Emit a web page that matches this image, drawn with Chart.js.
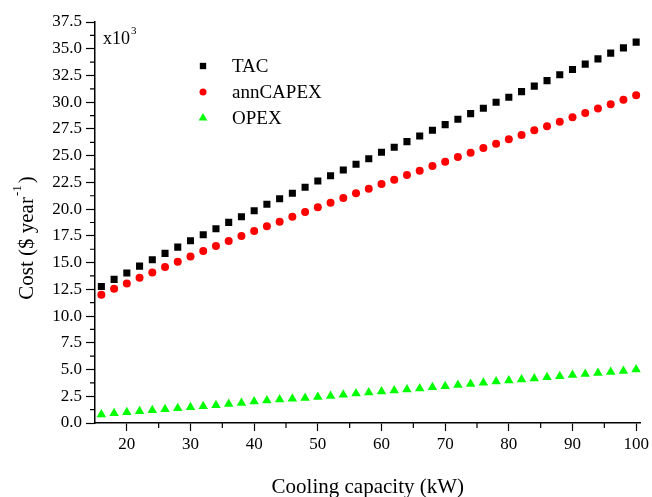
<!DOCTYPE html>
<html>
<head>
<meta charset="utf-8">
<script src="https://cdn.jsdelivr.net/npm/chart.js@4.4.1/dist/chart.umd.min.js"></script>
<style>
  html, body { margin: 0; padding: 0; background: #fff; }
</style>
</head>
<body>
<canvas id="c" width="652" height="497"></canvas>
<script>
// cooling capacity (kW), one point every 2 kW
const capacity = [16, 18, 20, 22, 24, 26, 28, 30, 32, 34, 36, 38, 40, 42, 44, 46, 48, 50, 52, 54,
  56, 58, 60, 62, 64, 66, 68, 70, 72, 74, 76, 78, 80, 82, 84, 86, 88, 90, 92, 94, 96, 98, 100];

// costs in thousands of $ per year
const tac = [12.77, 13.43, 14.02, 14.67, 15.26, 15.86, 16.45, 17.04, 17.60, 18.16,
  18.76, 19.29, 19.85, 20.45, 20.97, 21.48, 22.04, 22.63, 23.13, 23.66,
  24.19, 24.72, 25.32, 25.79, 26.31, 26.84, 27.38, 27.90, 28.41, 28.93,
  29.44, 30.00, 30.47, 30.99, 31.50, 32.02, 32.56, 33.05, 33.56, 34.05,
  34.59, 35.08, 35.62];
const annCapex = [11.99, 12.55, 13.05, 13.58, 14.08, 14.58, 15.07, 15.58, 16.08, 16.55,
  17.01, 17.48, 17.95, 18.39, 18.82, 19.29, 19.73, 20.17, 20.60, 21.04,
  21.48, 21.91, 22.35, 22.75, 23.19, 23.60, 24.04, 24.44, 24.88, 25.28,
  25.72, 26.12, 26.54, 26.94, 27.38, 27.75, 28.18, 28.60, 29.00, 29.40,
  29.81, 30.22, 30.66];
const opex = [0.79, 0.91, 1.00, 1.10, 1.19, 1.28, 1.38, 1.47, 1.56, 1.65,
  1.77, 1.88, 2.00, 2.10, 2.19, 2.26, 2.34, 2.43, 2.53, 2.64,
  2.75, 2.85, 2.94, 3.03, 3.13, 3.22, 3.34, 3.44, 3.56, 3.65,
  3.77, 3.88, 3.97, 4.06, 4.16, 4.28, 4.37, 4.49, 4.59, 4.68,
  4.78, 4.87, 5.00];

const xTicks = [20, 30, 40, 50, 60, 70, 80, 90, 100];
const xMinorTicks = [25, 35, 45, 55, 65, 75, 85, 95];
const yTicks = [0, 2.5, 5, 7.5, 10, 12.5, 15, 17.5, 20, 22.5, 25, 27.5, 30, 32.5, 35, 37.5];
const yMinorTicks = [1.25, 3.75, 6.25, 8.75, 11.25, 13.75, 16.25, 18.75, 21.25, 23.75,
  26.25, 28.75, 31.25, 33.75, 36.25];

const SERIF = "'Liberation Serif', 'Times New Roman', serif";

const series = [
  { label: "TAC", values: tac, color: "#000000", style: "rect", radius: 5 },
  { label: "annCAPEX", values: annCapex, color: "#ff0000", style: "circle", radius: 4 },
  { label: "OPEX", values: opex, color: "#00ff00", style: "triangle", radius: 5.5 }
];

function drawMarker(ctx, s, x, y) {
  ctx.fillStyle = s.color;
  Chart.helpers.drawPoint(ctx, { pointStyle: s.style, radius: s.radius, rotation: 0, borderWidth: 0 }, x, y);
}

// minor ticks, axis titles, the x10^3 note and the in-plot legend
const decor = {
  id: "decor",
  afterDraw(chart) {
    const { ctx, chartArea, scales: { x, y } } = chart;
    ctx.save();

    ctx.strokeStyle = "#000";
    ctx.lineWidth = 1.2;
    ctx.beginPath();
    xMinorTicks.forEach(v => {
      const px = x.getPixelForValue(v);
      ctx.moveTo(px, chartArea.bottom);
      ctx.lineTo(px, chartArea.bottom + 5);
    });
    yMinorTicks.forEach(v => {
      const py = y.getPixelForValue(v);
      ctx.moveTo(chartArea.left, py);
      ctx.lineTo(chartArea.left - 5, py);
    });
    ctx.stroke();

    ctx.fillStyle = "#000";

    // x title
    ctx.font = "21px " + SERIF;
    ctx.textAlign = "center";
    ctx.textBaseline = "middle";
    ctx.fillText("Cooling capacity (kW)", (chartArea.left + chartArea.right) / 2, 487);

    // y title with superscript
    ctx.save();
    ctx.translate(33, 238);
    ctx.rotate(-Math.PI / 2);
    ctx.textAlign = "left";
    ctx.textBaseline = "alphabetic";
    const main = "Cost ($ year";
    const sup = "-1";
    const tail = ")";
    ctx.font = "21px " + SERIF;
    const wMain = ctx.measureText(main).width;
    const wTail = ctx.measureText(tail).width;
    ctx.font = "13px " + SERIF;
    const wSup = ctx.measureText(sup).width;
    const start = -(wMain + wSup + 3 + wTail) / 2;
    ctx.font = "21px " + SERIF;
    ctx.fillText(main, start, 0);
    ctx.fillText(tail, start + wMain + wSup + 3, 0);
    ctx.font = "13px " + SERIF;
    ctx.fillText(sup, start + wMain + 1, -12);
    ctx.restore();

    // x10^3 multiplier
    ctx.textAlign = "left";
    ctx.textBaseline = "alphabetic";
    ctx.font = "18px " + SERIF;
    ctx.fillText("x10", chartArea.left + 8, 44);
    const w10 = ctx.measureText("x10").width;
    ctx.font = "11px " + SERIF;
    ctx.fillText("3", chartArea.left + 8 + w10 + 1, 34);

    // legend
    ctx.font = "19px " + SERIF;
    ctx.textBaseline = "middle";
    series.forEach((s, i) => {
      const ly = 66 + i * 26;
      drawMarker(ctx, { ...s, radius: s.radius - 0.5 }, 203, ly);
      ctx.fillStyle = "#000";
      ctx.fillText(s.label, 232, ly + 1);
    });

    ctx.restore();
  }
};

new Chart(document.getElementById("c").getContext("2d"), {
  type: "scatter",
  data: {
    datasets: series.map(s => ({
      label: s.label,
      data: capacity.map((c, i) => ({ x: c, y: s.values[i] })),
      pointStyle: s.style,
      pointRadius: s.radius,
      pointHoverRadius: s.radius,
      pointBorderWidth: 0,
      backgroundColor: s.color,
      borderColor: s.color
    }))
  },
  options: {
    responsive: false,
    animation: false,
    devicePixelRatio: 1,
    layout: { padding: { top: 22, right: 11, left: 0, bottom: 0 } },
    plugins: {
      legend: { display: false },
      tooltip: { enabled: false }
    },
    scales: {
      x: {
        type: "linear",
        min: 15,
        max: 100.7,
        afterBuildTicks: s => { s.ticks = xTicks.map(v => ({ value: v })); },
        afterFit: s => { s.height = 74; },
        grid: { drawOnChartArea: false, drawTicks: true, tickLength: 8, tickColor: "#000", tickWidth: 1.2 },
        border: { display: true, color: "#000", width: 1.5 },
        ticks: { color: "#000", font: { family: SERIF, size: 17 }, padding: 3, maxRotation: 0 }
      },
      y: {
        min: 0,
        max: 37.5,
        afterBuildTicks: s => { s.ticks = yTicks.map(v => ({ value: v })); },
        afterFit: s => { s.width = 95; },
        grid: { drawOnChartArea: false, drawTicks: true, tickLength: 9, tickColor: "#000", tickWidth: 1.2 },
        border: { display: true, color: "#000", width: 1.5 },
        ticks: { color: "#000", font: { family: SERIF, size: 17 }, padding: 4, callback: v => v.toFixed(1) }
      }
    }
  },
  plugins: [decor]
});
</script>
</body>
</html>
